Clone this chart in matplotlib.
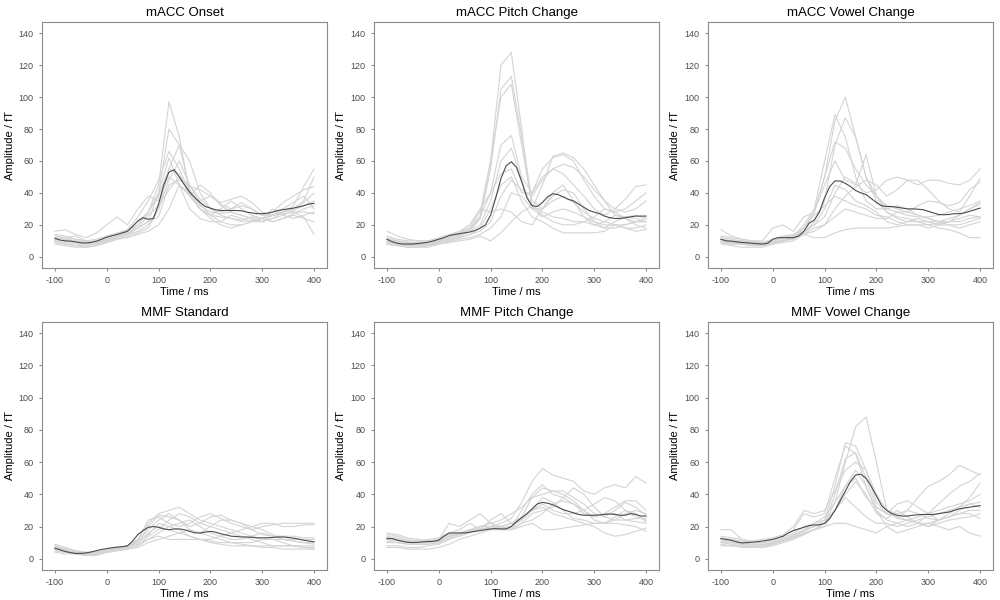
import matplotlib
matplotlib.use("Agg")
import matplotlib.pyplot as plt
import numpy as np

plt.rcParams.update({
    'font.family': ['Liberation Sans', 'DejaVu Sans'],
    'axes.unicode_minus': False,
    'axes.linewidth': 0.8,
    'axes.edgecolor': '#8c8c8c',
    'xtick.color': '#8c8c8c',
    'ytick.color': '#8c8c8c',
    'xtick.labelcolor': '#4d4d4d',
    'ytick.labelcolor': '#4d4d4d',
    'xtick.labelsize': 6.5,
    'ytick.labelsize': 6.5,
    'xtick.major.size': 2.5,
    'ytick.major.size': 2.5,
})

# ---------------------- 数据 ----------------------
# 均值曲线：-100 到 400 ms，每 10 ms
t_mean = list(range(-100, 401, 10))
# 个体曲线：-100 到 400 ms，每 20 ms
t_subj = list(range(-100, 401, 20))

titles = ["mACC Onset", "mACC Pitch Change", "mACC Vowel Change",
          "MMF Standard", "MMF Pitch Change", "MMF Vowel Change"]

mean_onset = [11.5, 10.5, 10, 9.8, 9.3, 8.8, 8.6, 9, 9.8, 11, 12.3, 13.2, 14, 15, 16, 19, 22.5,
              24.5, 23.5, 24, 33, 45, 53, 54.5, 50, 45, 40.5, 37, 34, 31.5, 30.5, 29.5, 29, 29,
              29, 29, 28.8, 28, 27.5, 27, 27, 27.3, 28, 29, 29.5, 30, 30.5, 31.2, 32, 33, 33.5]
subj_onset = [
    [10, 9, 8, 7, 8, 10, 12, 14, 20, 28, 45, 97, 75, 40, 30, 26, 25, 24, 22, 23, 24, 26, 27, 28, 28, 27],
    [12, 11, 10, 9, 9, 11, 13, 15, 18, 22, 40, 80, 70, 42, 32, 28, 27, 28, 26, 24, 22, 24, 26, 29, 32, 35],
    [9, 8, 7, 7, 8, 10, 12, 14, 16, 20, 30, 55, 70, 60, 40, 30, 26, 24, 23, 25, 24, 22, 24, 27, 30, 32],
    [14, 13, 11, 10, 10, 12, 14, 17, 25, 35, 48, 66, 55, 40, 35, 38, 33, 30, 34, 30, 26, 26, 28, 32, 44, 55],
    [16, 17, 14, 12, 15, 20, 25, 20, 30, 38, 35, 50, 45, 38, 45, 40, 32, 28, 26, 24, 22, 24, 28, 30, 35, 50],
    [8, 7, 6, 6, 7, 9, 11, 13, 15, 18, 30, 48, 60, 45, 33, 26, 22, 20, 20, 22, 22, 26, 30, 28, 25, 14],
    [10, 10, 9, 8, 9, 11, 13, 15, 18, 22, 25, 45, 48, 44, 42, 38, 34, 36, 38, 34, 28, 26, 28, 30, 34, 40],
    [13, 12, 11, 10, 11, 13, 15, 17, 22, 28, 40, 62, 45, 30, 24, 22, 22, 26, 24, 22, 24, 30, 26, 24, 26, 28],
    [11, 12, 13, 10, 9, 10, 12, 14, 18, 26, 32, 42, 50, 45, 36, 30, 28, 30, 32, 30, 26, 28, 34, 38, 42, 44],
    [9, 8, 7, 6, 7, 9, 11, 12, 14, 16, 20, 30, 45, 40, 30, 24, 20, 18, 20, 22, 24, 22, 24, 26, 24, 22],
    [12, 11, 10, 9, 9, 11, 13, 16, 20, 28, 38, 55, 52, 38, 30, 26, 30, 35, 30, 26, 24, 26, 30, 34, 38, 30],
]

mean_pitch = [11, 9.5, 8.5, 8, 8, 8, 8.3, 8.7, 9.2, 10, 11, 12, 13.3, 14, 14.5, 15, 15.5, 16.5, 18,
              20, 26, 37, 49, 57, 59.5, 56, 47, 37, 32, 31.5, 34, 37.5, 39.5, 39, 37.5, 36, 35, 33,
              31, 29, 28, 27, 25.5, 24.5, 24, 24, 24.5, 25, 25.5, 25.5, 25.5]
subj_pitch = [
    [9, 8, 7, 7, 8, 10, 12, 14, 17, 25, 60, 120, 128, 80, 30, 25, 28, 30, 28, 25, 22, 20, 20, 20, 22, 22],
    [10, 9, 8, 8, 8, 9, 11, 13, 16, 24, 55, 105, 113, 75, 35, 30, 35, 38, 34, 28, 24, 22, 20, 18, 18, 20],
    [12, 10, 9, 9, 9, 10, 12, 14, 18, 28, 60, 100, 108, 70, 32, 28, 25, 24, 22, 22, 20, 18, 18, 20, 22, 24],
    [11, 10, 9, 8, 8, 10, 12, 15, 18, 25, 40, 70, 76, 50, 40, 55, 62, 64, 60, 48, 38, 30, 28, 30, 35, 40],
    [8, 7, 6, 6, 7, 9, 11, 13, 16, 20, 35, 60, 68, 48, 30, 45, 63, 65, 62, 55, 45, 35, 26, 24, 22, 22],
    [16, 13, 11, 10, 10, 12, 14, 16, 20, 30, 40, 52, 55, 40, 40, 50, 55, 52, 45, 38, 30, 26, 30, 36, 44, 45],
    [9, 8, 7, 7, 7, 9, 10, 12, 14, 16, 22, 38, 48, 42, 38, 48, 55, 58, 56, 50, 42, 35, 30, 28, 30, 35],
    [10, 9, 8, 8, 8, 9, 10, 12, 14, 18, 30, 45, 50, 35, 25, 22, 18, 15, 15, 15, 15, 16, 20, 18, 16, 17],
    [8, 7, 6, 6, 6, 8, 9, 11, 12, 14, 18, 25, 40, 38, 30, 30, 40, 45, 35, 25, 20, 22, 26, 25, 24, 22],
    [13, 11, 10, 10, 10, 11, 13, 15, 20, 30, 28, 30, 28, 22, 20, 30, 38, 42, 40, 30, 22, 18, 22, 25, 26, 24],
    [9, 8, 8, 7, 7, 8, 9, 10, 11, 13, 10, 15, 22, 28, 32, 26, 22, 20, 20, 22, 25, 30, 28, 24, 20, 18],
]

mean_vowel = [11, 10, 9.8, 9.4, 9, 8.8, 8.5, 8.2, 8, 8.5, 11, 12, 12, 12, 12, 13, 16, 21, 23, 28,
              37, 44, 47.5, 47.5, 46, 44, 41.5, 40, 39, 36.5, 34, 32, 31.5, 31.5, 31, 30.5, 30, 30,
              29.8, 29.5, 28.5, 27.5, 26.5, 26.3, 26.5, 27, 27, 27.5, 28.5, 29.5, 30.5]
subj_vowel = [
    [9, 8, 8, 7, 7, 9, 10, 12, 18, 28, 50, 85, 100, 75, 50, 38, 32, 30, 28, 26, 24, 22, 22, 24, 26, 25],
    [10, 9, 9, 8, 8, 10, 12, 13, 20, 30, 60, 89, 75, 50, 35, 30, 30, 32, 30, 26, 24, 22, 20, 20, 22, 24],
    [12, 11, 10, 9, 8, 9, 10, 11, 15, 22, 35, 70, 87, 75, 50, 35, 28, 25, 24, 22, 20, 18, 17, 15, 12, 12],
    [11, 10, 10, 9, 9, 11, 13, 14, 18, 28, 50, 72, 68, 55, 45, 38, 30, 28, 26, 25, 25, 26, 28, 30, 32, 35],
    [17, 13, 11, 10, 10, 18, 20, 16, 25, 28, 45, 60, 48, 45, 64, 38, 28, 24, 22, 22, 22, 22, 24, 26, 30, 34],
    [9, 8, 8, 8, 8, 10, 12, 13, 16, 20, 25, 40, 50, 46, 40, 42, 48, 50, 48, 45, 48, 48, 46, 45, 48, 55],
    [8, 7, 6, 6, 6, 8, 9, 10, 14, 18, 20, 30, 38, 44, 48, 45, 38, 42, 48, 48, 42, 35, 30, 28, 38, 49],
    [10, 10, 9, 8, 8, 9, 10, 12, 14, 16, 20, 25, 30, 28, 26, 24, 24, 28, 28, 32, 35, 34, 32, 34, 42, 47],
    [13, 12, 11, 10, 9, 10, 12, 13, 14, 12, 12, 15, 17, 18, 18, 18, 18, 19, 20, 20, 20, 21, 22, 22, 24, 25],
    [11, 10, 9, 8, 8, 9, 11, 12, 15, 20, 30, 45, 42, 35, 32, 28, 22, 20, 22, 24, 22, 20, 20, 18, 20, 22],
    [9, 9, 8, 7, 7, 8, 10, 12, 18, 26, 32, 38, 35, 32, 30, 26, 25, 22, 20, 20, 18, 20, 22, 26, 30, 33],
]

mean_mmf_std = [6.5, 5.5, 4.5, 3.8, 3.3, 3.3, 3.6, 4.2, 5, 5.8, 6.3, 6.8, 7.2, 7.5, 8, 11, 15, 17.5,
                19.5, 20, 19.5, 18.5, 18, 18.5, 18.5, 18, 17, 16, 16, 16.5, 17, 16.5, 15.5, 14.8, 14,
                13.8, 13.5, 13.5, 13.3, 13, 13, 13, 13.2, 13.5, 13.5, 13.2, 12.8, 12.2, 11.5, 11, 10.5]
subj_mmf_std = [
    [8, 6, 4, 3, 4, 5, 6, 7, 12, 22, 28, 30, 32, 28, 24, 22, 20, 18, 16, 14, 12, 12, 12, 12, 12, 12],
    [7, 5, 4, 3, 3, 5, 6, 7, 10, 20, 27, 26, 24, 20, 22, 26, 27, 24, 22, 20, 18, 15, 12, 11, 10, 10],
    [5, 4, 3, 3, 3, 4, 5, 6, 8, 14, 18, 24, 28, 26, 22, 20, 18, 16, 14, 12, 10, 8, 8, 8, 7, 6],
    [9, 7, 5, 4, 4, 6, 7, 8, 12, 24, 26, 22, 20, 22, 26, 28, 25, 22, 20, 18, 20, 21, 22, 22, 22, 22],
    [6, 5, 4, 3, 3, 5, 6, 7, 9, 12, 16, 20, 18, 14, 12, 12, 14, 16, 18, 20, 22, 22, 20, 20, 21, 21],
    [7, 6, 4, 3, 3, 5, 6, 8, 10, 16, 20, 18, 16, 14, 12, 11, 10, 10, 10, 10, 12, 12, 10, 8, 7, 7],
    [5, 4, 3, 2, 2, 4, 5, 6, 8, 12, 14, 12, 12, 12, 12, 10, 9, 8, 8, 8, 7, 7, 6, 6, 6, 6],
    [6, 5, 4, 3, 3, 5, 6, 7, 11, 18, 24, 28, 24, 18, 16, 20, 24, 24, 22, 18, 15, 14, 14, 14, 13, 13],
    [8, 6, 5, 4, 4, 5, 7, 8, 10, 15, 22, 20, 22, 24, 20, 16, 14, 12, 12, 14, 16, 14, 12, 11, 10, 9],
    [4, 3, 3, 2, 3, 4, 5, 6, 7, 10, 12, 14, 16, 18, 16, 14, 12, 10, 9, 8, 8, 8, 8, 8, 8, 8],
]

mean_mmf_pitch = [12.5, 12.5, 11.5, 10.8, 10.2, 10, 10.2, 10.5, 10.7, 10.8, 11.5, 14, 16, 16, 16, 16,
                  16.5, 17, 17.5, 18, 18.5, 18.7, 18.5, 18.5, 20, 23, 25.5, 28, 31, 34, 35, 34.5, 33.5,
                  32, 30.5, 29.5, 28.5, 27.5, 27, 27, 27, 27.2, 27.5, 27.8, 27.5, 27, 27, 28, 27.5,
                  26.5, 26.5]
subj_mmf_pitch = [
    [14, 13, 11, 10, 10, 11, 14, 15, 17, 18, 20, 22, 25, 35, 48, 56, 52, 50, 48, 42, 40, 44, 46, 44, 51, 47],
    [16, 15, 13, 12, 11, 12, 22, 20, 24, 28, 22, 18, 20, 30, 40, 46, 40, 38, 34, 30, 26, 28, 32, 36, 36, 30],
    [13, 12, 11, 11, 12, 13, 16, 18, 22, 18, 24, 28, 22, 26, 38, 44, 42, 40, 36, 30, 24, 22, 24, 28, 30, 28],
    [8, 8, 7, 7, 8, 9, 12, 15, 17, 19, 18, 20, 22, 25, 30, 34, 30, 28, 28, 30, 34, 38, 36, 30, 26, 24],
    [10, 10, 9, 9, 9, 10, 13, 16, 18, 20, 20, 19, 20, 24, 30, 32, 28, 26, 24, 22, 20, 16, 14, 15, 17, 19],
    [7, 7, 6, 6, 6, 7, 9, 12, 14, 16, 18, 18, 18, 20, 22, 18, 18, 19, 20, 21, 22, 22, 22, 21, 20, 17],
    [12, 11, 10, 10, 10, 11, 14, 16, 18, 20, 22, 24, 28, 32, 38, 40, 42, 42, 38, 34, 28, 26, 30, 35, 32, 27],
    [15, 14, 12, 11, 11, 12, 15, 16, 18, 20, 22, 20, 18, 22, 28, 30, 32, 38, 44, 40, 32, 26, 24, 24, 25, 25],
    [11, 10, 9, 9, 9, 10, 12, 14, 16, 18, 19, 20, 22, 24, 30, 38, 35, 30, 25, 24, 22, 22, 26, 30, 28, 23],
    [13, 12, 11, 10, 10, 11, 14, 16, 17, 18, 20, 20, 19, 22, 24, 28, 34, 36, 34, 28, 26, 28, 28, 24, 23, 22],
]

mean_mmf_vowel = [12.5, 12, 11.5, 10.5, 9.8, 10, 10.3, 10.5, 11, 11.5, 12, 13, 14, 16, 17.5, 18.5,
                  19.5, 20.5, 21, 21, 22, 25, 30, 36, 42, 48, 52, 52.5, 50, 45, 39, 33, 30, 28, 27,
                  26.5, 26.5, 27, 27.3, 27.5, 27.5, 27.5, 28, 28.5, 29, 30, 31, 31.5, 32, 32.5, 33]
subj_mmf_vowel = [
    [10, 9, 8, 7, 8, 9, 11, 13, 16, 18, 22, 35, 60, 82, 88, 60, 30, 25, 24, 22, 20, 22, 24, 25, 26, 28],
    [12, 11, 10, 9, 9, 10, 12, 15, 18, 20, 24, 45, 72, 70, 55, 35, 28, 26, 30, 28, 25, 24, 26, 30, 34, 32],
    [18, 18, 12, 10, 10, 12, 14, 18, 28, 26, 28, 50, 70, 65, 45, 30, 24, 22, 20, 22, 28, 34, 40, 45, 48, 53],
    [9, 8, 8, 7, 7, 9, 11, 13, 16, 18, 22, 40, 62, 66, 50, 32, 28, 34, 36, 32, 28, 24, 26, 28, 30, 30],
    [14, 13, 12, 11, 12, 13, 15, 20, 30, 28, 30, 42, 55, 60, 55, 40, 30, 28, 30, 38, 45, 48, 52, 58, 55, 52],
    [11, 10, 9, 8, 8, 10, 12, 14, 18, 22, 26, 35, 45, 55, 45, 30, 20, 16, 18, 20, 22, 20, 18, 20, 16, 14],
    [8, 8, 7, 7, 7, 8, 10, 12, 15, 18, 20, 30, 40, 48, 40, 28, 25, 30, 26, 22, 20, 24, 28, 32, 38, 47],
    [13, 12, 11, 10, 10, 11, 13, 16, 20, 22, 24, 30, 38, 32, 26, 22, 22, 20, 22, 24, 26, 28, 30, 32, 34, 35],
    [10, 10, 9, 8, 8, 9, 11, 13, 15, 18, 20, 22, 22, 20, 18, 16, 20, 22, 24, 26, 28, 30, 32, 34, 36, 40],
    [12, 11, 10, 9, 9, 10, 12, 14, 17, 20, 22, 30, 45, 50, 38, 32, 28, 26, 24, 22, 22, 24, 26, 28, 28, 25],
]

means = [mean_onset, mean_pitch, mean_vowel, mean_mmf_std, mean_mmf_pitch, mean_mmf_vowel]
subjects = [subj_onset, subj_pitch, subj_vowel, subj_mmf_std, subj_mmf_pitch, subj_mmf_vowel]

# ---------------------- 布局（像素 -> 图坐标） ----------------------
W, H = 1000, 600
lefts = [42, 374, 708]
width = 285
rows = [(22, 268), (322, 570)]

fig = plt.figure(figsize=(10, 6), dpi=100)
for i in range(6):
    r, c = divmod(i, 3)
    top, bot = rows[r]
    ax = fig.add_axes([lefts[c] / W, (H - bot) / H, width / W, (bot - top) / H])
    for s in subjects[i]:
        ax.plot(t_subj, s, color='#d4d4d4', lw=0.8, zorder=1)
    ax.plot(t_mean, means[i], color='#4a4a4a', lw=0.8, zorder=3)
    ax.set_xlim(-125, 425)
    ax.set_ylim(-7, 147)
    ax.set_xticks([-100, 0, 100, 200, 300, 400])
    ax.set_yticks([0, 20, 40, 60, 80, 100, 120, 140])
    ax.set_title(titles[i], fontsize=9.5, pad=4)
    ax.set_xlabel("Time / ms", fontsize=8, labelpad=1)
    ax.set_ylabel("Amplitude / fT", fontsize=8, labelpad=3)

plt.savefig("out.png", dpi=100)
plt.close()
